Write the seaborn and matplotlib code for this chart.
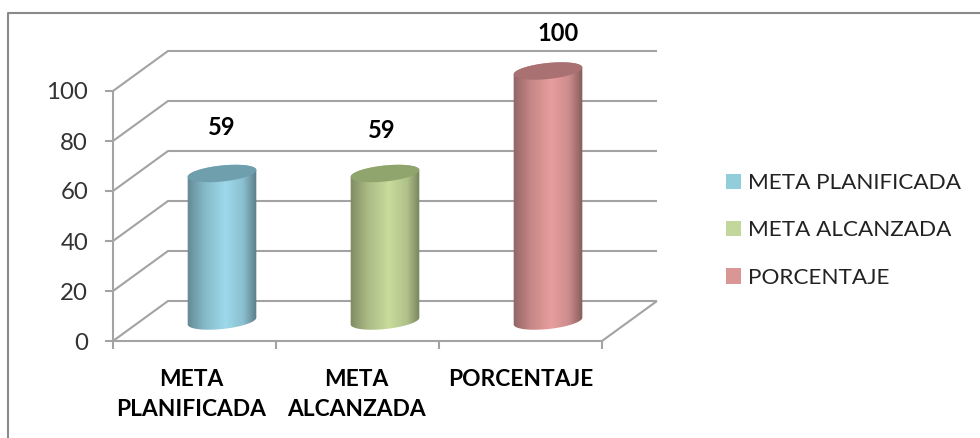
import matplotlib
matplotlib.use("Agg")
import matplotlib.pyplot as plt
import seaborn as sns
import pandas as pd
import numpy as np
from matplotlib.lines import Line2D
from matplotlib.patches import Patch, Polygon

categories = ["META\nPLANIFICADA", "META\nALCANZADA", "PORCENTAJE"]
legend_labels = ["META PLANIFICADA", "META ALCANZADA", "PORCENTAJE"]
values = [59, 59, 100]
y_ticks = [0, 20, 40, 60, 80, 100]

body_colors = ["#9DD9EB", "#C8DC9C", "#E89E9E"]
top_colors = ["#6F9EAD", "#8FA56D", "#A97171"]
legend_colors = ["#92CDDC", "#C3D69B", "#D99694"]
label_shift = [(0, 46), (-3, 43), (10, 37)]
cat_shift = [-3.5, -1, 0]

sns.set_theme(style="white")
plt.rcParams["font.family"] = ["Lato", "DejaVu Sans"]

W, H = 980, 438
fig = plt.figure(figsize=(W / 100, H / 100), dpi=100)
ax = fig.add_axes([140.5 / W, (H - 321) / H, 489 / W, 250 / H])

df = pd.DataFrame({"cat": categories, "val": values})
sns.barplot(data=df, x="cat", y="val", hue="cat", palette=body_colors,
            order=categories, width=68 / 163, legend=False, ax=ax, zorder=3)
ax.set_xlim(-0.5, 2.5)
ax.set_ylim(0, 100)
ax.axis("off")

# pixel sizes in data units
sx, sy = 3 / 489, 100 / 250
dx, dy = 27.5 * sx, 20 * sy
GRID = "#A3A3A3"


def line(xs, ys, z=1):
    ax.add_line(Line2D(xs, ys, color=GRID, lw=1.5, zorder=z, clip_on=False,
                       solid_capstyle="butt"))


# back wall, side wall and floor
for t in y_ticks:
    line([-0.5 - dx, -0.5 + dx, 2.5 + dx], [t - dy, t + dy, t + dy])
    line([-0.5 - dx - 8 * sx, -0.5 - dx], [t - dy, t - dy])
    ax.text(-0.5 - dx - 25 * sx, t - dy - 2 * sy, str(t), ha="right", va="center",
            fontsize=17.3, color="#333333")
line([-0.5 - dx, -0.5 - dx], [-dy - 8 * sy, 100 - dy])
line([-0.5 - dx, 2.5 - dx, 2.5 + dx], [-dy, -dy, dy])
for i in range(1, 4):
    line([i - 0.5 - dx, i - 0.5 - dx], [-dy, -dy - 8 * sy])


def arc(cx, cy, t0, t1, a=34.5, b=8, tilt=np.radians(6)):
    # tilted ellipse, built in pixels and returned in data units
    t = np.linspace(t0, t1, 60)
    px = a * np.cos(t) * np.cos(tilt) - b * np.sin(t) * np.sin(tilt)
    py = a * np.cos(t) * np.sin(tilt) + b * np.sin(t) * np.cos(tilt)
    return np.column_stack([cx + px * sx, cy + py * sy])


shade = np.interp(np.linspace(0, 1, 70), [0, 0.25, 0.55, 0.8, 1], [0.62, 0.85, 1, 0.88, 0.56])
for bar, body, top_c in zip(ax.patches, body_colors, top_colors):
    cx = bar.get_x() + bar.get_width() / 2
    val = bar.get_height()
    bar.set_visible(False)
    rgb = np.array(matplotlib.colors.to_rgb(body))
    grad = (shade[:, None] * rgb)[None, :, :]
    im = ax.imshow(grad, extent=[cx - 36 * sx, cx + 36 * sx, -15 * sy, val + 15 * sy],
                   aspect="auto", zorder=3, interpolation="bilinear")
    outline = np.vstack([arc(cx, 0, np.pi, 2 * np.pi), arc(cx, val, 0, np.pi)])
    clip = Polygon(outline, closed=True, transform=ax.transData)
    im.set_clip_path(clip)
    # image would stop at the axes box otherwise
    im.set_clip_box(fig.bbox)
    ax.add_patch(Polygon(arc(cx, val, 0, 2 * np.pi), closed=True, fc=top_c, ec="none",
                         zorder=4, clip_on=False))

ax.set_xlim(-0.5, 2.5)
ax.set_ylim(0, 100)

for i, (cat, val) in enumerate(zip(categories, values)):
    ax.annotate(str(val), (i, val), xytext=label_shift[i], textcoords="offset pixels",
                ha="center", va="center", fontsize=17, fontweight="bold",
                color="black", annotation_clip=False, zorder=6)
    ax.text(i - dx + cat_shift[i] * sx, -dy - 28.5 * sy, cat, ha="center", va="top", fontsize=16.4,
            fontweight="bold", color="black", linespacing=1.5)

handles = [Patch(fc=c, ec="none") for c in legend_colors]
fig.legend(handles, legend_labels, loc="center left", bbox_to_anchor=(725.7 / W, 1 - 230.5 / H),
           frameon=False, fontsize=16.2, labelcolor="#222222", handlelength=0.67,
           handleheight=0.67, handletextpad=0.3, labelspacing=1.22, borderpad=0,
           borderaxespad=0)

# chart frame
fig.add_artist(Line2D([7.5 / W, 7.5 / W, 1], [0, 1 - 12.5 / H, 1 - 12.5 / H],
                      color="#8A8A8A", lw=1.5))

fig.savefig("out.png", dpi=100)
plt.close()
